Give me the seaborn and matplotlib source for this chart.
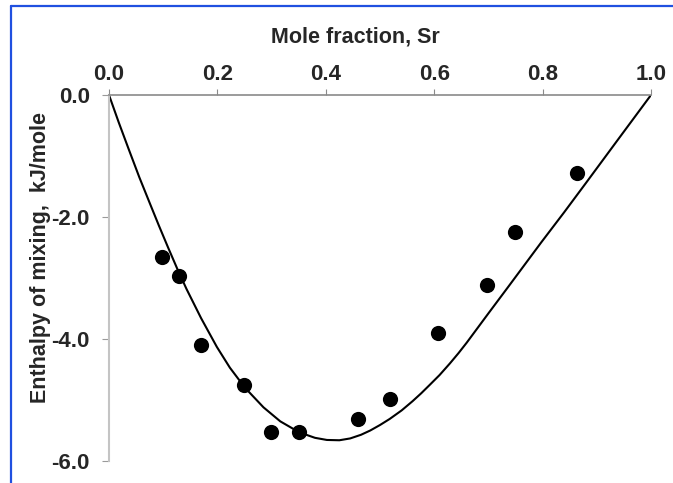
import matplotlib
matplotlib.use("Agg")
import matplotlib.pyplot as plt
from matplotlib.lines import Line2D
import seaborn as sns
import pandas as pd

# Measured data (mole fraction Sr, enthalpy of mixing kJ/mole)
meas_x = [0.098, 0.129, 0.170, 0.249, 0.299, 0.351, 0.459, 0.518, 0.607, 0.697, 0.749, 0.863]
meas_y = [-2.66, -2.97, -4.10, -4.75, -5.52, -5.52, -5.31, -4.98, -3.90, -3.11, -2.25, -1.28]

# Model curve
curve_x = [0.000, 0.018, 0.036, 0.056, 0.076, 0.092, 0.109, 0.126, 0.143, 0.170, 0.199,
           0.223, 0.251, 0.285, 0.316, 0.351, 0.380, 0.402, 0.425, 0.445, 0.465, 0.482,
           0.500, 0.518, 0.540, 0.560, 0.576, 0.592, 0.610, 0.629, 0.645, 0.660, 0.680,
           0.700, 0.737, 0.798, 0.840, 0.881, 0.940, 1.000]
curve_y = [0.00, -0.45, -0.88, -1.35, -1.79, -2.14, -2.50, -2.85, -3.18, -3.66, -4.13,
           -4.47, -4.80, -5.12, -5.35, -5.53, -5.62, -5.655, -5.66, -5.63, -5.57, -5.50,
           -5.41, -5.31, -5.17, -5.02, -4.89, -4.75, -4.59, -4.40, -4.23, -4.06, -3.82,
           -3.58, -3.14, -2.41, -1.92, -1.43, -0.72, 0.00]

x_ticks = [0.0, 0.2, 0.4, 0.6, 0.8, 1.0]
y_ticks = [0.0, -2.0, -4.0, -6.0]

sns.set_theme(style="white")
plt.rcParams['font.family'] = ['Liberation Sans', 'DejaVu Sans']

fig = plt.figure(figsize=(6.73, 4.83), dpi=100)
ax = fig.add_axes([109/673, 1 - 461/483, 542/673, 366/483])

df_m = pd.DataFrame({"x": meas_x, "y": meas_y})
df_c = pd.DataFrame({"x": curve_x, "y": curve_y})

sns.lineplot(data=df_c, x="x", y="y", sort=False, estimator=None, color="black",
             linewidth=1.5, ax=ax, zorder=2)
sns.scatterplot(data=df_m, x="x", y="y", color="black", s=120, edgecolor="black",
                linewidth=0, ax=ax, zorder=3, clip_on=False)

ax.set_xlim(0, 1)
ax.set_ylim(-6, 0)
ax.xaxis.tick_top()
ax.xaxis.set_label_position("top")
ax.set_xticks(x_ticks)
ax.set_xticklabels([f"{v:.1f}" for v in x_ticks])
ax.set_yticks(y_ticks)
ax.set_yticklabels([f"{v:.1f}" for v in y_ticks])

for s in ["right", "bottom"]:
    ax.spines[s].set_visible(False)
ax.spines["top"].set_color("#8a8a8a")
ax.spines["left"].set_color("#c4c4c4")
ax.spines["top"].set_linewidth(1.2)
ax.spines["left"].set_linewidth(1.5)

ax.tick_params(axis="x", which="major", top=True, bottom=False, direction="out",
               length=4.5, width=0.8, color="#8a8a8a", pad=3, labelsize=16)
ax.tick_params(axis="y", which="major", left=True, direction="out",
               length=4.8, width=0.8, color="#9a9a9a", pad=9, labelsize=16)
for lab in ax.get_xticklabels() + ax.get_yticklabels():
    lab.set_fontweight("bold")

ax.set_xlabel("Mole fraction, Sr", fontsize=15.5, fontweight="bold", labelpad=15)
ax.xaxis.label.set_x(0.454)
ax.set_ylabel("Enthalpy of mixing,  kJ/mole", fontsize=15.5, fontweight="bold", labelpad=0.5)
ax.yaxis.label.set_y(0.556)

# Blue frame lines along the top and left edges of the picture
fig.add_artist(Line2D([11/673, 1.0], [1 - 6/483, 1 - 6/483], color="#2050e0", linewidth=1.6,
                      transform=fig.transFigure))
fig.add_artist(Line2D([11/673, 11/673], [0.0, 1 - 6/483], color="#2050e0", linewidth=1.6,
                      transform=fig.transFigure))

fig.savefig("out.png", dpi=100)
